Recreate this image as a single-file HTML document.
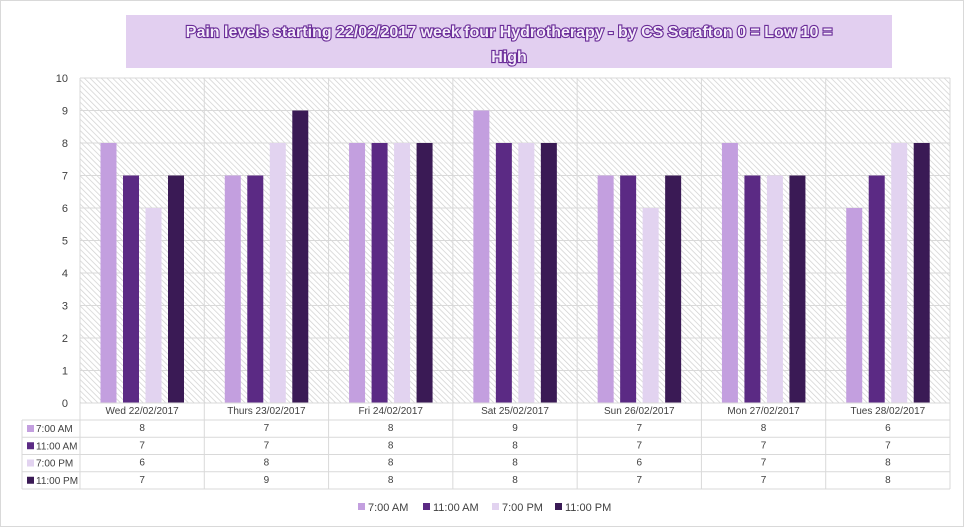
<!DOCTYPE html>
<html><head><meta charset="utf-8"><style>
html,body{margin:0;padding:0;background:#fff;width:964px;height:527px;overflow:hidden}
svg{display:block;font-family:"Liberation Sans",sans-serif}
</style></head><body>
<svg id="s" width="964" height="527" xmlns="http://www.w3.org/2000/svg">
<defs>
<pattern id="h" width="4" height="4" patternUnits="userSpaceOnUse" patternTransform="rotate(-45)">
<rect width="4" height="4" fill="#fff"/><line x1="0" y1="0" x2="0" y2="4" stroke="#cfcfcf" stroke-width="1.4"/>
</pattern>
</defs>
<rect x="0.5" y="0.5" width="963" height="526" fill="#fff" stroke="#d9d9d9"/>
<rect x="126" y="15" width="766" height="53" fill="#e2cff0"/>
<text x="509" y="37" text-anchor="middle" font-size="16" font-weight="bold" fill="#f4ecfa" stroke="#6a2c98" stroke-width="2.2" paint-order="stroke">Pain levels starting  22/02/2017  week four Hydrotherapy  - by CS Scrafton  0 = Low 10 =</text>
<text x="509" y="62" text-anchor="middle" font-size="16" font-weight="bold" fill="#f4ecfa" stroke="#6a2c98" stroke-width="2.2" paint-order="stroke">High</text>
<rect x="80" y="78" width="870" height="325" fill="url(#h)"/>
<g id="g"></g>
</svg>
<script>
var g=document.getElementById('g'),ns='http://www.w3.org/2000/svg';
function el(t,a,txt){var e=document.createElementNS(ns,t);for(var k in a)e.setAttribute(k,a[k]);if(txt!=null)e.textContent=txt;g.appendChild(e);return e;}
var L=80,R=950,T=78,B=403,cw=(R-L)/7,u=(B-T)/10;
var cols=['#c39fdf','#5b2a84','#e2d3f0','#3a1a55'];
var names=['7:00 AM','11:00 AM','7:00 PM','11:00 PM'];
var cats=['Wed 22/02/2017','Thurs 23/02/2017','Fri 24/02/2017','Sat 25/02/2017','Sun 26/02/2017','Mon 27/02/2017','Tues 28/02/2017'];
var d=[[8,7,8,9,7,8,6],[7,7,8,8,7,7,7],[6,8,8,8,6,7,8],[7,9,8,8,7,7,8]];
for(var i=0;i<=10;i++){var y=B-i*u;el('line',{x1:L,x2:R,y1:y,y2:y,stroke:'#d9d9d9'});el('text',{x:68,y:y+4,'text-anchor':'end','font-size':11,fill:'#404040'},i);}
for(var c=0;c<7;c++){var x0=L+c*cw;
 for(var s=0;s<4;s++){var v=d[s][c];el('rect',{x:x0+20.5+s*22.5,y:B-v*u,width:16,height:v*u,fill:cols[s]});}
 el('text',{x:x0+cw/2,y:414,'text-anchor':'middle','font-size':10,fill:'#404040'},cats[c]);
 for(var s=0;s<4;s++)el('text',{x:x0+cw/2,y:431+s*17.3,'text-anchor':'middle','font-size':10,fill:'#404040'},d[s][c]);
}
for(var c=0;c<=7;c++){var x=L+c*cw;el('line',{x1:x,x2:x,y1:T,y2:489,stroke:'#d9d9d9'});}
el('line',{x1:22,x2:22,y1:420,y2:489,stroke:'#d9d9d9'});
el('line',{x1:L,x2:R,y1:403,y2:403,stroke:'#d9d9d9'});
for(var r=0;r<5;r++){var y=420+r*17.25;el('line',{x1:22,x2:R,y1:y,y2:y,stroke:'#d9d9d9'});}
for(var s=0;s<4;s++){var y=420+s*17.25;el('rect',{x:27,y:y+5,width:7,height:7,fill:cols[s]});el('text',{x:36,y:y+12,'font-size':10,fill:'#404040'},names[s]);}
var lx=[358,423,492,555];
for(var s=0;s<4;s++){el('rect',{x:lx[s],y:503,width:7,height:7,fill:cols[s]});el('text',{x:lx[s]+10,y:511,'font-size':11,fill:'#404040'},names[s]);}
</script>
</body></html>
